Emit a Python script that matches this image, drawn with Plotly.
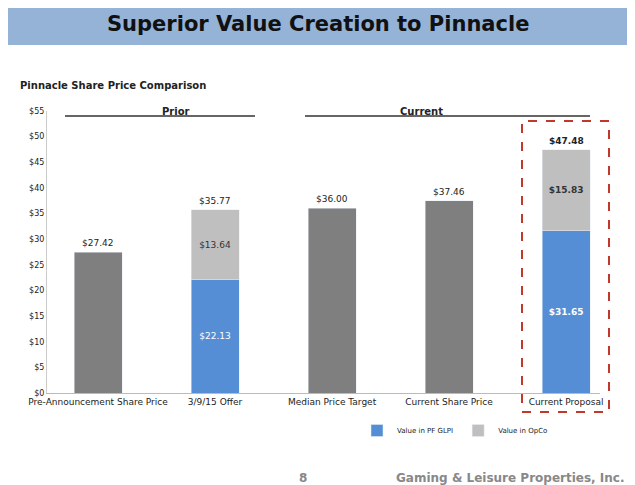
import plotly.graph_objects as go

categories = ["Pre-Announcement Share Price", "3/9/15 Offer", "Median Price Target", "Current Share Price", "Current Proposal"]
single_vals = [27.42, None, 36.00, 37.46, None]
glpi_vals = [None, 22.13, None, None, 31.65]
opco_vals = [None, 13.64, None, None, 15.83]
totals = [27.42, 35.77, 36.00, 37.46, 47.48]
tick_vals = [0, 5, 10, 15, 20, 25, 30, 35, 40, 45, 50, 55]

OFF = 8
W, H = 635 - OFF, 485 - OFF
px = lambda v: (v - OFF) / W
py = lambda v: 1 - (v - OFF) / H
xs = list(range(len(categories)))

def fmt(v, i):
    if v is None:
        return ""
    s = f"${v:.2f}"
    return f"<b>{s}</b>" if i == 4 else s

fig = go.Figure()
fig.add_bar(x=xs, y=single_vals, marker_color="#7f7f7f", width=0.41, showlegend=False)
fig.add_bar(x=xs, y=glpi_vals, marker_color="#558ed5", width=0.41, name="Value in PF GLPI",
            text=[fmt(v, i) for i, v in enumerate(glpi_vals)], textposition="inside",
            insidetextanchor="middle", textfont=dict(color="white", size=9))
fig.add_bar(x=xs, y=opco_vals, marker_color="#bfbfbf", width=0.41, name="Value in OpCo",
            text=[fmt(v, i) for i, v in enumerate(opco_vals)], textposition="inside",
            insidetextanchor="middle", textfont=dict(color="#333", size=9))

annots = []
for i, t in enumerate(totals):
    annots.append(dict(x=i, y=t, text=fmt(t, i), showarrow=False,
                       yshift=9, font=dict(size=9, color="#222")))

annots += [
    dict(xref="paper", yref="paper", x=px(318), y=py(24), text="<b>Superior Value Creation to Pinnacle</b>",
         showarrow=False, font=dict(size=21, color="#111"), yanchor="middle"),
    dict(xref="paper", yref="paper", x=px(18), y=py(78), text="<b>Pinnacle Share Price Comparison</b>",
         showarrow=False, xanchor="left", font=dict(size=10)),
    dict(xref="paper", yref="paper", x=px(160), y=py(104), text="<b>Prior</b>", showarrow=False, font=dict(size=10)),
    dict(xref="paper", yref="paper", x=px(445), y=py(104), text="<b>Current</b>", showarrow=False, font=dict(size=10)),
    dict(xref="paper", yref="paper", x=px(303), y=py(478), text="<b>8</b>", showarrow=False,
         font=dict(size=12, color="#888"), yanchor="middle"),
    dict(xref="paper", yref="paper", x=px(627), y=py(478), text="<b>Gaming &amp; Leisure Properties, Inc.</b>",
         showarrow=False, xanchor="right", font=dict(size=12, color="#888"), yanchor="middle"),
]

fig.update_layout(
    width=W, height=H, barmode="stack", plot_bgcolor="white", paper_bgcolor="white",
    margin=dict(l=0, r=0, t=0, b=0, autoexpand=False),
    font=dict(family="DejaVu Sans", size=9, color="#222"),
    xaxis=dict(domain=[px(47), px(600)], range=[-0.436, 4.29], tickvals=xs, ticktext=categories,
               showline=True, linecolor="#bbb", ticks="", tickfont=dict(size=9), automargin=False),
    yaxis=dict(domain=[py(393), py(111)], range=[0, 55], tickvals=tick_vals,
               ticktext=[f"${v}" for v in tick_vals], showgrid=False, showline=True, linecolor="#ccc",
               tickfont=dict(size=8), automargin=False),
    legend=dict(orientation="h", x=px(455), xanchor="center", y=py(416), yanchor="top",
                font=dict(size=7), traceorder="normal"),
    shapes=[
        dict(type="rect", xref="paper", yref="paper", x0=px(2), x1=px(633), y0=py(45), y1=py(4),
             fillcolor="#95b3d7", line_width=0, layer="below"),
        dict(type="line", xref="paper", yref="paper", x0=px(65), x1=px(255), y0=py(116), y1=py(116),
             line=dict(color="#333", width=1.5)),
        dict(type="line", xref="paper", yref="paper", x0=px(305), x1=px(590), y0=py(116), y1=py(116),
             line=dict(color="#333", width=1.5)),
        dict(type="rect", xref="paper", yref="paper", x0=px(522), x1=px(609), y0=py(412), y1=py(121),
             line=dict(color="#c0392b", width=2, dash="dash")),
    ],
    annotations=annots,
)
fig.write_html("out.html")
